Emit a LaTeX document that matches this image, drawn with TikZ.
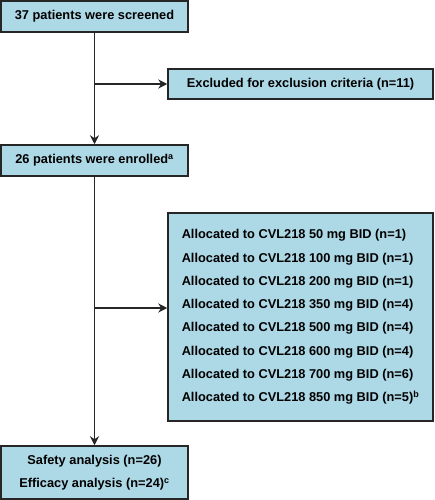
\documentclass[tikz,border=0pt]{standalone}
\usepackage{fontspec}
\setmainfont{Liberation Sans}
\usetikzlibrary{arrows.meta,positioning}
\definecolor{boxblue}{HTML}{ADD8E6}
\tikzset{
    box/.style = {draw=black!85, fill=boxblue, line width=1.5pt, inner sep=0pt,
        font=\bfseries\fontsize{12.8}{23.3}\selectfont},
    flow/.style = {line width=1.5pt, draw=black!85, -{Stealth[length=9pt,width=9pt]}}
}
\begin{document}
\begin{tikzpicture}[x=1pt, y=-1pt]
        \useasboundingbox (0, 0) rectangle (434, 500);
        \node [box, minimum width=187pt, minimum height=31pt, align=center] (screen) at (94.5, 16.5)
            {37 patients were screened};
        \node [box, minimum width=265pt, minimum height=30pt, align=center] (excl) at (300.5, 84)
            {Excluded for exclusion criteria (n=11)};
        \node [box, minimum width=187pt, minimum height=31pt, align=center] (enrol) at (94.5, 160.5)
            {26 patients were enrolled\textsuperscript{a}};
        \node [box, minimum width=265pt, minimum height=208pt, align=left] (alloc) at (300.5, 317)
            {Allocated to CVL218 50 mg BID (n=1)\\
             Allocated to CVL218 100 mg BID (n=1)\\
             Allocated to CVL218 200 mg BID (n=1)\\
             Allocated to CVL218 350 mg BID (n=4)\\
             Allocated to CVL218 500 mg BID (n=4)\\
             Allocated to CVL218 600 mg BID (n=4)\\
             Allocated to CVL218 700 mg BID (n=6)\\
             Allocated to CVL218 850 mg BID (n=5)\textsuperscript{b}};
        \node [box, minimum width=187pt, minimum height=53pt, align=center] (anal) at (94.5, 472.5)
            {Safety analysis (n=26)\\
             Efficacy analysis (n=24)\textsuperscript{c}};
        % branch points on the main line
        \coordinate (b1) at (screen.south |- excl.west);
        \coordinate (b2) at (94.5, 308);
        \draw [flow] (screen) -- (enrol);
        \draw [flow] (b1) -- (excl);
        \draw [flow] (enrol) -- (anal);
        \draw [flow] (b2) -- (b2 -| alloc.west);
    \end{tikzpicture}
\end{document}
